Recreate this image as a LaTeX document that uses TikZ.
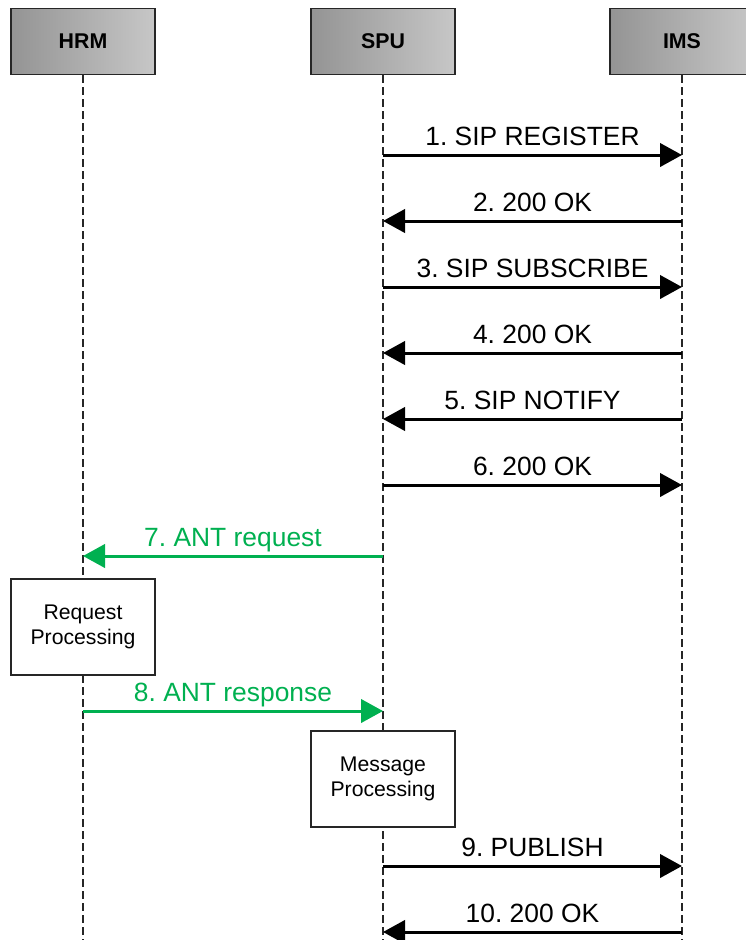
\documentclass[tikz,border=0pt]{standalone}
\usepackage{fontspec}
\setmainfont{Liberation Sans}
\usetikzlibrary{arrows.meta}
\definecolor{antgreen}{HTML}{00B050}
\frenchspacing
\begin{document}
\begin{tikzpicture}[x=0.75pt,y=-0.75pt,
  actor/.style={draw=black!85, line width=0.8pt, left color=black!42, right color=black!22,
    minimum width=108pt, minimum height=50pt, inner sep=0pt,
    font=\bfseries\fontsize{16}{19}\selectfont},
  lifeline/.style={draw=black!85, line width=0.9pt, dash pattern=on 6pt off 3pt},
  msg/.style={line width=2.25pt, -{Triangle[length=16.5pt,width=17.5pt]}},
  msglabel/.style={anchor=base, inner sep=0pt, yshift=7.5pt,
    font=\fontsize{19.8}{22}\selectfont},
  procbox/.style={draw=black!85, line width=0.8pt, fill=white,
    minimum width=108pt, minimum height=72pt, align=center, inner sep=0pt,
    font=\fontsize{15.9}{19}\selectfont}]
  \clip (0,0) rectangle (746,940);

  % participants
  \node[actor] (hrm) at (83,41.5) {HRM};
  \node[actor] (spu) at (383,41.5) {SPU};
  \node[actor] (ims) at (682,41.5) {IMS};

  % lifeline ends
  \coordinate (hrmEnd) at (83,945);
  \coordinate (spuEnd) at (383,945);
  \coordinate (imsEnd) at (682,945);
  \draw[lifeline] (hrm.south) -- (hrmEnd);
  \draw[lifeline] (spu.south) -- (spuEnd);
  \draw[lifeline] (ims.south) -- (imsEnd);

  % processing steps
  \node[procbox] (reqproc) at (83,627) {Request\\Processing};
  \node[procbox] (msgproc) at (383,779) {Message\\Processing};

  % message end points on the lifelines
  \foreach \n/\y in {1/155,2/221,3/287,4/353,5/419,6/485,7/556,8/711,9/866,10/932} {
    \coordinate (h\n) at (83,\y);
    \coordinate (s\n) at (383,\y);
    \coordinate (i\n) at (682,\y);
  }

  % SPU <-> IMS signalling
  \draw[msg] (s1) -- (i1) node[midway, msglabel] {1. SIP REGISTER};
  \draw[msg] (i2) -- (s2) node[midway, msglabel] {2. 200 OK};
  \draw[msg] (s3) -- (i3) node[midway, msglabel] {3. SIP SUBSCRIBE};
  \draw[msg] (i4) -- (s4) node[midway, msglabel] {4. 200 OK};
  \draw[msg] (i5) -- (s5) node[midway, msglabel] {5. SIP NOTIFY};
  \draw[msg] (s6) -- (i6) node[midway, msglabel] {6. 200 OK};

  % ANT exchange between SPU and HRM
  \draw[msg, antgreen] (s7) -- (h7) node[midway, msglabel, text=antgreen] {7. ANT request};
  \draw[msg, antgreen] (h8) -- (s8) node[midway, msglabel, text=antgreen] {8. ANT response};

  % publishing
  \draw[msg] (s9) -- (i9) node[midway, msglabel] {9. PUBLISH};
  \draw[msg] (i10) -- (s10) node[midway, msglabel] {10. 200 OK};
\end{tikzpicture}
\end{document}
